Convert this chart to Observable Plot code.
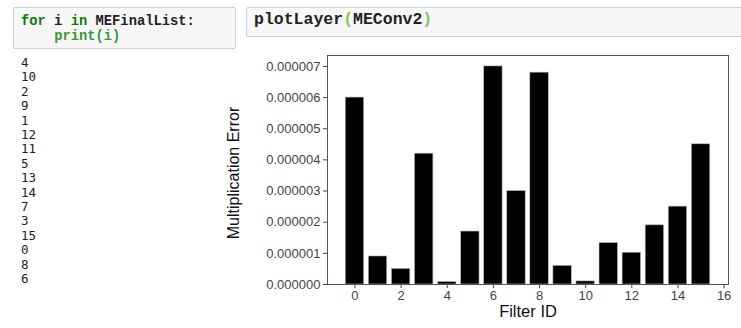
<!DOCTYPE html>
<html>
<head>
<meta charset="utf-8">
<script src="https://cdn.jsdelivr.net/npm/d3@7"></script>
<script src="https://cdn.jsdelivr.net/npm/@observablehq/plot@0.6"></script>
<style>
  html, body { margin: 0; padding: 0; background: #fff; }
  body { width: 741px; height: 328px; position: relative; overflow: hidden; }
  .cell { position: absolute; background: #f7f7f7; border: 1px solid #cfcfcf; border-radius: 2px; box-sizing: border-box; }
  .code { position: absolute; white-space: pre; font-family: "Liberation Mono", "DejaVu Sans Mono", monospace; font-weight: bold; color: #222; }
  .kw { color: #0b7a0b; }
  .bi { color: #3a9a35; }
  .br { color: #7cc95e; }
  #out { position: absolute; left: 21px; top: 56px; white-space: pre; font-family: "DejaVu Sans Mono", monospace; font-size: 12.5px; line-height: 14.4px; color: #222; }
  #chart { position: absolute; left: 200px; top: 40px; }
</style>
</head>
<body>
<div id="chart"></div>
<div class="cell" style="left:13px; top:7px; width:223px; height:42px;"></div>
<div class="code" style="left:21px; top:16px; font-size:13.8px; line-height:12px;"><span class="kw">for</span> i <span class="kw">in</span> MEFinalList:</div>
<div class="code" style="left:21px; top:31px; font-size:13.8px; line-height:12px;">    <span class="bi">print(i)</span></div>
<div class="cell" style="left:246px; top:7px; width:500px; height:30px;"></div>
<div class="code" style="left:254px; top:9.5px; font-size:16.5px; line-height:20px;">plotLayer<span class="br">(</span>MEConv2<span class="br">)</span></div>
<div id="out"></div>
<script>
const finalList = [4, 10, 2, 9, 1, 12, 11, 5, 13, 14, 7, 3, 15, 0, 8, 6];
const filterIds = [0, 1, 2, 3, 4, 5, 6, 7, 8, 9, 10, 11, 12, 13, 14, 15];
const errors = [6.0e-6, 0.9e-6, 0.5e-6, 4.2e-6, 0.08e-6, 1.7e-6, 7.0e-6, 3.0e-6, 6.8e-6, 0.6e-6, 0.1e-6, 1.33e-6, 1.02e-6, 1.9e-6, 2.5e-6, 4.5e-6];
const xTicks = [0, 2, 4, 6, 8, 10, 12, 14, 16];
const yTicks = [0, 1e-6, 2e-6, 3e-6, 4e-6, 5e-6, 6e-6, 7e-6];
const xLabel = "Filter ID";
const yLabel = "Multiplication Error";

document.getElementById("out").textContent = finalList.join("\n");

const data = filterIds.map((id, i) => ({id, value: errors[i]}));
const maxV = d3.max(errors);

const chart = Plot.plot({
  width: 541,
  height: 288,
  marginLeft: 127,
  marginRight: 13,
  marginTop: 15,
  marginBottom: 44,
  style: {fontFamily: "Liberation Sans, Arial, sans-serif", fontSize: "13px", color: "#444", background: "transparent"},
  x: {type: "linear", domain: [-1.19, 16.19]},
  y: {type: "linear", domain: [0, maxV * 1.05]},
  marks: [
    Plot.rectY(data, {x1: d => d.id - 0.4, x2: d => d.id + 0.4, y1: 0, y2: "value", fill: "#000", stroke: "#bbb", strokeWidth: 0.6}),
    Plot.axisX({ticks: xTicks, tickFormat: d3.format("d"), tickSize: 4, tickPadding: 2, label: null, stroke: "#444", fill: "#444", fontSize: 13}),
    Plot.axisY({ticks: yTicks, tickFormat: d3.format(".6f"), tickSize: 4, tickPadding: 3, label: null, stroke: "#444", fill: "#444", fontSize: 13}),
    Plot.frame({stroke: "#555", strokeWidth: 1}),
    Plot.text([xLabel], {frameAnchor: "bottom", lineAnchor: "middle", dy: 27, fontSize: 16.5, fill: "#111"}),
    Plot.text([yLabel], {frameAnchor: "left", textAnchor: "middle", lineAnchor: "middle", dx: -94, dy: 3, rotate: -90, fontSize: 16, fill: "#111"})
  ]
});
document.getElementById("chart").appendChild(chart);
</script>
</body>
</html>
